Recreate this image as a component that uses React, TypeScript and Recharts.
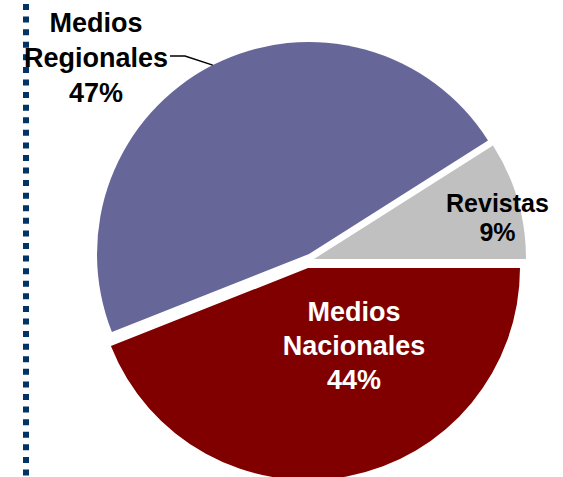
import React from "react";
import { PieChart, Pie, Cell } from "recharts";

// ---- data ----
const categories = ["Revistas", "Medios Regionales", "Medios Nacionales"];
const shares = [9, 47, 44];
const colors = ["#C0C0C0", "#666699", "#800000"];
const textColors = ["#000000", "#000000", "#FFFFFF"];

const data = categories.map((name, i) => ({ name, value: shares[i] }));

// ---- layout / style ----
const W = 563;
const H = 477;
const R = 212;
const sliceCenters = [
  { cx: 314, cy: 259 },
  { cx: 309, cy: 254 },
  { cx: 308, cy: 268 },
];
const labelLayout = [
  { dx: 183.5, dy: -46.7, lineH: 28.4, fontSize: 25 },
  { dx: -213, dy: -222.3, lineH: 35, fontSize: 27 },
  { dx: 46, dy: 53, lineH: 34, fontSize: 27 },
];
const FONT = "'Liberation Sans', Arial, sans-serif";

const RAD = Math.PI / 180;

const makeLabel = (k: number) => (props: any) => {
  if (props.index !== k) return <g />;
  const { cx, cy } = sliceCenters[k];
  const L = labelLayout[k];
  const x = cx + L.dx;
  const y0 = cy + L.dy;
  const lines = [...categories[k].split(" "), `${shares[k]}%`];
  let leader = null;
  if (k === 1) {
    const mid = typeof props.midAngle === "number" ? props.midAngle : 117;
    const px = cx + R * Math.cos(-mid * RAD);
    const py = cy + R * Math.sin(-mid * RAD);
    const ly = y0 + 24.3;
    leader = (
      <polyline
        points={`${x + 74},${ly} ${x + 89},${ly} ${px},${py}`}
        fill="none"
        stroke="#000"
        strokeWidth={1.5}
      />
    );
  }
  return (
    <g>
      {leader}
      <text
        textAnchor="middle"
        fontFamily={FONT}
        fontWeight="bold"
        fontSize={L.fontSize}
        fill={textColors[k]}
      >
        {lines.map((t, i) => (
          <tspan key={i} x={x} y={y0 + i * L.lineH}>
            {t}
          </tspan>
        ))}
      </text>
    </g>
  );
};

export default function App() {
  return (
    <div style={{ position: "absolute", left: 0, top: 0, width: W, height: H, background: "#fff" }}>
      <svg
        width={W}
        height={H}
        style={{ position: "absolute", left: 0, top: 0 }}
      >
        <line
          x1={26}
          y1={4}
          x2={26}
          y2={H}
          stroke="#003366"
          strokeWidth={6}
          strokeDasharray="6 6.58"
        />
      </svg>
      <div style={{ position: "absolute", left: 0, top: 0 }}>
        <PieChart width={W} height={H} margin={{ top: 0, right: 0, bottom: 0, left: 0 }}>
          {sliceCenters.map((c, k) => (
            <Pie
              key={k}
              data={data}
              dataKey="value"
              nameKey="name"
              cx={c.cx}
              cy={c.cy}
              outerRadius={R}
              innerRadius={0}
              startAngle={0}
              endAngle={360}
              stroke="none"
              isAnimationActive={false}
              label={makeLabel(k)}
              labelLine={false}
            >
              {data.map((_, i) => (
                <Cell key={i} fill={i === k ? colors[i] : "transparent"} stroke="none" />
              ))}
            </Pie>
          ))}
        </PieChart>
      </div>
    </div>
  );
}
